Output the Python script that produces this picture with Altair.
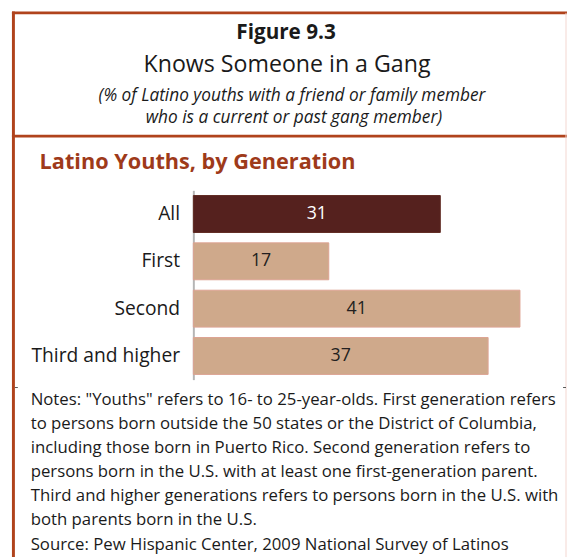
import altair as alt
import pandas as pd

categories = ["All", "First", "Second", "Third and higher"]
values = [31, 17, 41, 37]

figure_label = "Figure 9.3"
main_title = "Knows Someone in a Gang"
subtitle_lines = [
    "(% of Latino youths with a friend or family member",
    "who is a current or past gang member)",
]
section_title = "Latino Youths, by Generation"
notes_lines = [
    'Notes: "Youths" refers to 16- to 25-year-olds. First generation refers',
    "to persons born outside the 50 states or the District of Columbia,",
    "including those born in Puerto Rico. Second generation refers to",
    "persons born in the U.S. with at least one first-generation parent.",
    "Third and higher generations refers to persons born in the U.S. with",
    "both parents born in the U.S.",
]
source_line = "Source: Pew Hispanic Center, 2009 National Survey of Latinos"

FONT = "Open Sans"
RUST = "#b0431c"
df = pd.DataFrame({"generation": categories, "pct": values})

W, H = 362, 192

y_enc = alt.Y(
    "generation:N",
    sort=categories,
    scale=alt.Scale(paddingInner=0.22, paddingOuter=0.11),
    axis=alt.Axis(
        title=None, ticks=False, domainColor="#b5b5b5", domainWidth=2,
        labelFont=FONT, labelFontSize=19.5, labelColor="#1a1a1a", labelPadding=14,
    ),
)
x_scale = alt.Scale(domain=[0, 44.8], nice=False, zero=True)

bars = alt.Chart(df).mark_bar(strokeWidth=1).encode(
    x=alt.X("pct:Q", scale=x_scale, axis=None),
    y=y_enc,
    color=alt.when(alt.datum.generation == "All").then(alt.value("#55211e")).otherwise(alt.value("#cfa98b")),
    stroke=alt.when(alt.datum.generation == "All").then(alt.value("#5e2a22")).otherwise(alt.value("#dca392")),
)

labels = alt.Chart(df).transform_calculate(mid="datum.pct / 2").mark_text(
    font=FONT, fontSize=18, baseline="middle", align="center"
).encode(
    x=alt.X("mid:Q", scale=x_scale, axis=None),
    y=alt.Y("generation:N", sort=categories),
    text=alt.Text("pct:Q"),
    color=alt.when(alt.datum.generation == "All").then(alt.value("#ffffff")).otherwise(alt.value("#231f20")),
)


def txt(s, x, y, size, weight="normal", style="normal", align="center", color="#1a1a1a"):
    return alt.Chart(pd.DataFrame({"t": [s]})).mark_text(
        font=FONT, fontSize=size, fontWeight=weight, fontStyle=style,
        align=align, baseline="middle", color=color,
    ).encode(x=alt.value(x), y=alt.value(y), text="t:N")


def hrule(x1, x2, y, color=RUST, w=3):
    return alt.Chart(pd.DataFrame({"a": [0]})).mark_rule(color=color, strokeWidth=w).encode(
        x=alt.value(x1), x2=alt.value(x2), y=alt.value(y)
    )


def vrule(x, y1, y2, color=RUST, w=3):
    return alt.Chart(pd.DataFrame({"a": [0]})).mark_rule(color=color, strokeWidth=w).encode(
        x=alt.value(x), y=alt.value(y1), y2=alt.value(y2)
    )


layers = [
    hrule(-184, 380, -180),
    hrule(-184, 380, -55),
    vrule(-182.5, -181.5, 372),
    vrule(378, -180, 372, color="#f3d6d0", w=1),
    hrule(-181, -178, 200, color="#555555", w=1),
    hrule(375, 378, 200, color="#555555", w=1),
    txt(figure_label, 94, -159, 21, weight="bold"),
    txt(main_title, 95, -127, 23.5),
    txt(subtitle_lines[0], 100, -96, 17.5, style="italic"),
    txt(subtitle_lines[1], 102, -73, 17.5, style="italic"),
    txt(section_title, -156, -29, 22, weight="bold", align="left", color="#9e3a1a"),
]
note_ys = [213, 237, 261, 286, 310, 334]
for line, yy in zip(notes_lines, note_ys):
    layers.append(txt(line, -165, yy, 17, align="left"))
layers.append(txt(source_line, -165, 360, 17, align="left"))

chart = alt.layer(bars, labels, *layers).properties(
    width=W, height=H,
    autosize=alt.AutoSizeParams(type="none"),
    padding={"left": 188, "top": 181, "right": 567 - 188 - W, "bottom": 552 - 181 - H},
    background="white",
).configure_view(stroke=None)

chart.save("out.html", embed_options={"renderer": "svg", "actions": False})
